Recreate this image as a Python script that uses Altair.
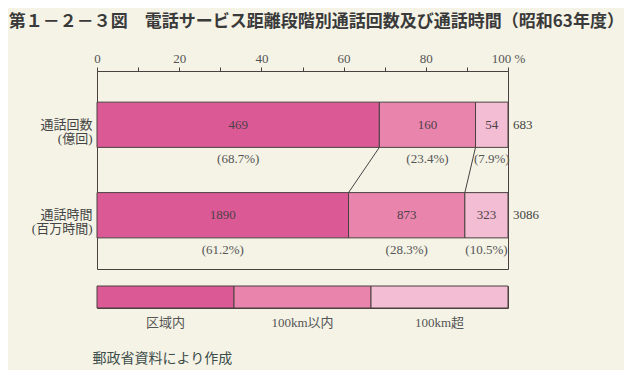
import altair as alt
import pandas as pd

# ---- data ----
rows = ["通話回数　|(億回)", "通話時間　|(百万時間)"]
bands = ["区域内", "100km以内", "100km超"]
calls = [469, 160, 54]
calls_total = 683
calls_pct = [68.7, 23.4, 7.9]
hours = [1890, 873, 323]
hours_total = 3086
hours_pct = [61.2, 28.3, 10.5]
x_ticks = [0, 10, 20, 30, 40, 50, 60, 70, 80, 90, 100]
source_note = "郵政省資料により作成"
title_text = "第１－２－３図　電話サービス距離段階別通話回数及び通話時間（昭和63年度）"

colors = ["#db5a96", "#e985ad", "#f3bdd3"]
edge = "#4a4040"
ink = "#4e4048"
serif = "Liberation Serif, Noto Sans CJK JP"

# ---- tables ----
seg_records = []
cum_ends = []
for row, vals, pcts in [(rows[0], calls, calls_pct), (rows[1], hours, hours_pct)]:
    start = 0.0
    ends = []
    for band, v, p in zip(bands, vals, pcts):
        end = start + p
        seg_records.append(dict(row=row, band=band, value=v, start=start, end=end,
                                mid=(start + end) / 2, pct=f"({p}%)"))
        ends.append(end)
        start = end
    cum_ends.append(ends)
seg = pd.DataFrame(seg_records)

conn = pd.DataFrame([dict(x1=cum_ends[0][k], x2=cum_ends[1][k], r1=rows[0], r2=rows[1])
                     for k in range(2)])
totals = pd.DataFrame(dict(row=rows, total=[calls_total, hours_total], pos=[100, 100]))
leg = pd.DataFrame(dict(band=bands))

xs = alt.Scale(domain=[0, 100], nice=False, zero=False)
ys = alt.Scale(domain=rows, paddingInner=0.5, paddingOuter=0.344)
cs = alt.Scale(domain=bands, range=colors)

x_axis = alt.Axis(orient="top", values=x_ticks, title=None, grid=False,
                  labelExpr="datum.value % 20 == 0 ? (datum.value == 100 ? '100 %' : datum.label) : ''",
                  labelFlush=False, labelOverlap=False, tickSize=4, tickColor=edge,
                  domainColor=edge, labelFont=serif, labelFontSize=13, labelColor="#555",
                  labelPadding=2)
y_axis = alt.Axis(title=None, domain=False, ticks=False, labelExpr="split(datum.label, '|')",
                  labelFont=serif, labelFontSize=13, labelColor="#444", labelPadding=5,
                  labelLineHeight=14)

base = alt.Chart(seg)
bars = base.mark_bar(stroke=edge, strokeWidth=1).encode(
    x=alt.X("start:Q", scale=xs, axis=x_axis),
    x2="end:Q",
    y=alt.Y("row:N", scale=ys, axis=y_axis, sort=rows),
    color=alt.Color("band:N", scale=cs, legend=None),
)
vals_txt = base.mark_text(font=serif, fontSize=13, color=ink).encode(
    x=alt.X("mid:Q", scale=xs), y=alt.Y("row:N", scale=ys, sort=rows), text="value:Q")
pct_txt = base.mark_text(font=serif, fontSize=13, color="#555", dy=12).encode(
    x=alt.X("mid:Q", scale=xs), y=alt.Y("row:N", scale=ys, sort=rows, bandPosition=1),
    text="pct:N")
tot_txt = alt.Chart(totals).mark_text(font=serif, fontSize=13, color="#444", align="left", dx=5).encode(
    x=alt.X("pos:Q", scale=xs), y=alt.Y("row:N", scale=ys, sort=rows), text="total:Q")
rules = alt.Chart(conn).mark_rule(color="#444", strokeWidth=1).encode(
    x=alt.X("x1:Q", scale=xs), x2="x2:Q",
    y=alt.Y("r1:N", scale=ys, sort=rows, bandPosition=1),
    y2=alt.Y2("r2:N", bandPosition=0),
)

main = alt.layer(bars, rules, vals_txt, pct_txt, tot_txt).properties(width=411, height=198)

legend = alt.Chart(leg).mark_bar(stroke=edge, strokeWidth=1).encode(
    x=alt.X("band:N", sort=bands, scale=alt.Scale(domain=bands, paddingInner=0, paddingOuter=0),
            axis=alt.Axis(orient="bottom", title=None, domain=False, ticks=False, labelAngle=0,
                          labelPadding=8, labelFont=serif, labelFontSize=13, labelColor="#555")),
    color=alt.Color("band:N", scale=cs, legend=None),
).properties(
    width=411, height=22,
    title=alt.TitleParams(source_note, orient="bottom", anchor="start", font=serif,
                          fontSize=14, fontWeight="normal", color="#3d4d4a", dx=-4, offset=23),
)

chart = alt.vconcat(main, legend, spacing=15).properties(
    title=alt.TitleParams(title_text, anchor="start", font="Noto Sans CJK JP", fontSize=17,
                          fontWeight="bold", color="#3a3a3a", dx=-22, offset=21),
    padding={"left": 0, "top": 4, "right": 0, "bottom": 3},
).configure(background="#f4f3e6").configure_view(stroke=edge, strokeWidth=1)

chart.save("out.html", embed_options={"renderer": "svg", "actions": False})
